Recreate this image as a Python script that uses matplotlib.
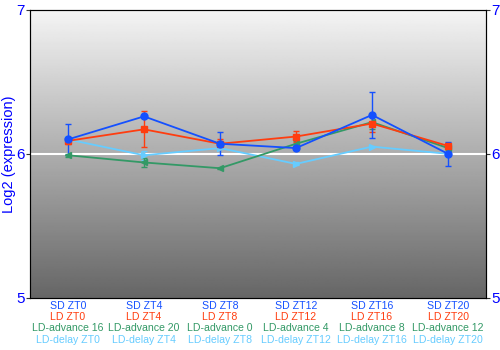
import matplotlib.pyplot as plt
import numpy as np

plt.rcParams['font.family'] = ['Liberation Sans', 'DejaVu Sans']

timepoints = ["ZT0", "ZT4", "ZT8", "ZT12", "ZT16", "ZT20"]
advance_labels = ["16", "20", "0", "4", "8", "12"]

sd = [6.10, 6.26, 6.07, 6.04, 6.27, 6.00]
sd_err = [0.11, 0.01, 0.08, 0.01, 0.16, 0.085]
ld = [6.09, 6.17, 6.07, 6.12, 6.21, 6.055]
ld_err = [0.02, 0.125, 0.03, 0.04, 0.06, 0.02]
adv = [5.99, 5.94, 5.90, 6.07, 6.22, 6.04]
adv_err = [0.01, 0.03, 0.005, 0.02, 0.05, 0.01]
delay = [6.10, 5.99, 6.04, 5.93, 6.05, 6.00]
delay_err = [0.01, 0.03, 0.005, 0.01, 0.005, 0.01]

c_sd = "#1450ff"
c_ld = "#ff3d0f"
c_adv = "#339966"
c_delay = "#66ccff"

fig = plt.figure(figsize=(5, 3.5), dpi=100)
ax = fig.add_axes([0.06, 0.149, 0.912, 0.823])

x = np.arange(len(timepoints)) + 0.5

# gradient background, light at top
grad = np.linspace(0.96, 0.40, 256).reshape(-1, 1)
ax.imshow(grad, extent=[0, 6, 5, 7], origin="upper", aspect="auto",
          cmap="gray", vmin=0, vmax=1, zorder=0)
ax.set_xlim(0, 6)
ax.set_ylim(5, 7)
ax.axhline(6, color="white", lw=1.5, zorder=1)

series = [
    (delay, delay_err, c_delay, ">", 4),
    (adv, adv_err, c_adv, "<", 4),
    (ld, ld_err, c_ld, "s", 5),
    (sd, sd_err, c_sd, "o", 5),
]
for y, e, c, m, ms in series:
    ax.errorbar(x, y, yerr=e, color=c, marker=m, ms=ms, lw=1.3,
                elinewidth=1, capsize=2, zorder=3)

ax.set_yticks([5, 6, 7])
ax.tick_params(axis="y", colors="#333333", labelcolor="blue", labelsize=11,
               length=3, pad=1)
ax.set_xticks([])
for s in ax.spines.values():
    s.set_color("#333333")

fig.text(0.019, 0.56, "Log2 (expression)", color="blue", fontsize=10.5,
         rotation=90, ha="center", va="center")

ax2 = ax.twinx()
ax2.set_ylim(5, 7)
ax2.set_yticks([5, 6, 7])
ax2.tick_params(axis="y", colors="#333333", labelcolor="blue", labelsize=11,
                length=3, pad=1)

for i, xi in enumerate(x):
    lines = [("SD " + timepoints[i], c_sd),
             ("LD " + timepoints[i], c_ld),
             ("LD-advance " + advance_labels[i], c_adv),
             ("LD-delay " + timepoints[i], c_delay)]
    for j, (t, c) in enumerate(lines):
        ax.text(xi, -0.012 - j * 0.0385, t, color=c, fontsize=7.6,
                ha="center", va="top", transform=ax.get_xaxis_transform())

fig.savefig("out.png", dpi=100)
